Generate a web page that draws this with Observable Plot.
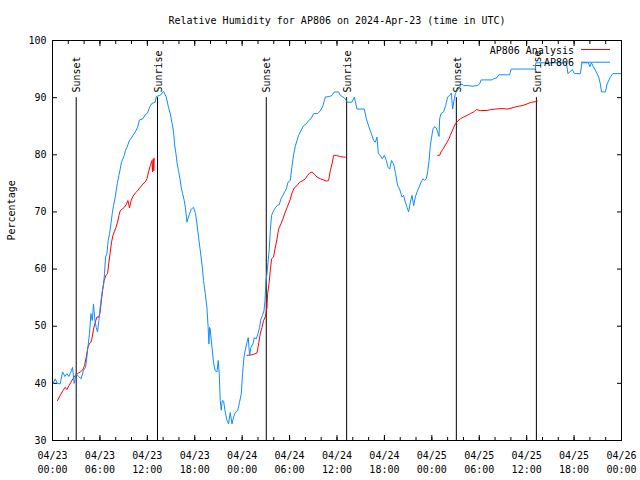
<!DOCTYPE html>
<html>
<head>
<meta charset="utf-8">
<script src="https://cdn.jsdelivr.net/npm/d3@7"></script>
<script src="https://cdn.jsdelivr.net/npm/@observablehq/plot@0.6"></script>
<style>
  html, body { margin: 0; padding: 0; background: white; }
  #chart { position: relative; width: 640px; height: 480px; }
</style>
</head>
<body>
<div id="chart"></div>
<script>
// ---- Data (hours since 2024-04-23 00:00 UTC, relative humidity %) ----
const title = "Relative Humidity for AP806 on 2024-Apr-23 (time in UTC)";
const yLabel = "Percentage";
const seriesNames = ["AP806 Analysis", "AP806"];

const blueSeries = [
  [0.05,39.9],[0.34,40.8],[0.63,40.0],[0.97,39.9],[1.27,42.0],[1.57,41.2],[1.82,41.7],[2.08,41.2],[2.33,42.0],[2.53,42.8],
  [2.75,40.0],[3.00,41.7],[3.29,41.2],[3.63,40.8],[3.92,42.3],[4.18,42.8],[4.35,44.6],[4.48,46.3],[4.68,48.7],[4.86,52.2],
  [5.03,51.0],[5.19,53.9],[5.37,51.0],[5.53,49.8],[5.70,49.0],[5.87,51.0],[6.04,53.3],[6.25,55.7],[6.46,57.4],[6.58,59.2],
  [6.71,62.1],[6.89,62.7],[7.05,65.0],[7.22,66.2],[7.39,67.9],[7.56,69.7],[7.72,71.1],[7.90,72.3],[8.06,73.7],[8.23,75.2],
  [8.41,76.4],[8.57,77.5],[8.73,78.7],[8.91,79.3],[9.08,79.9],[9.24,80.8],[9.42,81.3],[9.58,81.9],[9.75,82.6],[9.92,82.8],
  [10.18,83.4],[10.47,84.0],[10.76,84.8],[11.01,86.1],[11.44,86.3],[11.73,87.0],[12.03,87.3],[12.28,88.3],[12.58,89.0],[13.00,89.2],
  [13.13,90.2],[13.63,90.4],[14.05,91.1],[14.39,90.1],[14.68,88.3],[14.90,87.2],[15.11,85.7],[15.32,84.0],[15.44,81.9],[15.62,80.2],
  [15.78,78.4],[15.95,77.2],[16.13,75.8],[16.29,74.3],[16.46,73.2],[16.67,72.0],[16.84,70.5],[17.01,68.2],[17.27,69.4],[17.56,70.5],
  [17.85,70.8],[18.10,69.7],[18.28,67.9],[18.48,65.6],[18.70,63.2],[18.91,60.9],[19.11,58.0],[19.33,55.7],[19.54,53.3],[19.67,50.4],
  [19.80,46.9],[19.87,49.8],[19.96,49.5],[20.18,46.3],[20.38,43.6],[20.59,42.2],[20.81,42.0],[20.97,44.0],[21.10,41.7],[21.23,37.0],
  [21.35,35.3],[21.48,37.0],[21.65,36.9],[21.82,35.3],[22.08,33.5],[22.28,32.9],[22.49,34.9],[22.71,32.9],[22.91,34.1],[23.13,34.9],
  [23.42,35.2],[23.67,36.7],[23.89,38.2],[24.05,41.7],[24.23,44.6],[24.39,45.8],[24.61,47.2],[24.77,48.0],[24.94,44.9],[25.11,46.3],
  [25.37,46.9],[25.53,48.0],[25.78,47.8],[26.00,48.7],[26.20,49.8],[26.38,51.3],[26.58,51.9],[26.76,52.7],[26.89,54.5],[27.01,58.0],
  [27.14,59.2],[27.27,61.2],[27.43,63.5],[27.56,66.7],[27.72,69.4],[27.90,70.0],[28.10,70.5],[28.41,71.1],[28.70,71.3],[28.91,72.3],
  [29.16,72.9],[29.37,73.5],[29.58,74.0],[29.80,75.2],[30.09,75.5],[30.30,78.0],[30.51,80.0],[30.72,81.5],[30.94,82.5],[31.14,83.4],
  [31.44,84.2],[31.77,85.1],[32.11,85.4],[32.41,86.0],[32.71,86.3],[33.04,87.2],[33.54,87.2],[33.89,87.7],[34.23,88.6],[34.52,90.1],
  [35.06,90.2],[35.37,90.4],[35.66,91.0],[36.20,91.0],[36.42,90.4],[36.76,90.1],[37.05,89.8],[37.27,89.2],[37.90,89.2],[38.19,90.1],
  [38.53,88.0],[39.46,88.0],[39.71,86.3],[39.92,85.4],[40.13,84.5],[40.43,83.4],[40.63,82.5],[40.85,82.2],[41.06,83.1],[41.23,80.2],
  [41.48,79.9],[41.73,79.3],[41.99,79.9],[42.24,79.0],[42.46,77.8],[42.66,77.5],[42.91,79.0],[43.16,78.4],[43.42,76.7],[43.67,74.6],
  [43.92,74.0],[44.23,72.6],[44.43,72.9],[44.65,71.7],[44.86,70.8],[45.06,70.0],[45.28,71.7],[45.49,72.9],[45.70,71.1],[45.91,72.6],
  [46.13,73.5],[46.38,74.3],[46.63,75.2],[46.89,75.8],[47.09,75.5],[47.30,75.8],[47.47,77.0],[47.65,79.0],[47.81,81.6],[47.97,83.1],
  [48.15,84.5],[48.32,84.9],[48.57,84.7],[48.73,84.0],[48.91,83.2],[48.99,86.3],[49.16,87.2],[49.49,87.5],[49.75,88.6],[50.00,90.1],
  [50.25,90.4],[50.47,90.8],[50.63,88.0],[50.85,89.8],[50.97,90.7],[51.19,91.2],[51.39,91.5],[51.61,92.1],[51.82,92.4],[52.03,92.1],
  [52.66,92.1],[53.09,92.0],[53.72,92.1],[54.05,92.4],[54.23,93.1],[55.62,93.1],[55.82,93.3],[56.25,93.5],[56.46,94.0],[57.85,94.0],
  [58.03,95.0],[61.10,95.0],[61.16,96.1],[65.03,96.1],[65.22,94.2],[65.78,94.9],[66.04,94.2],[66.80,94.2],[66.99,96.1],[67.81,96.1],
  [68.00,95.4],[68.19,96.1],[68.44,95.4],[68.70,94.8],[69.11,93.6],[69.33,92.4],[69.46,91.0],[69.96,91.0],[70.18,92.4],[70.59,93.6],
  [70.89,94.2],[72.00,94.2]
];

const redSegment1 = [
  [0.63,37.0],[0.97,37.9],[1.32,38.75],[1.61,39.3],[1.82,38.9],[2.08,39.6],[2.33,40.2],[2.58,40.8],[2.87,41.4],[3.16,41.7],
  [3.51,42.0],[3.85,42.4],[4.05,43.1],[4.27,44.6],[4.48,46.3],[4.65,46.9],[4.86,47.2],[5.03,48.1],[5.19,49.5],[5.41,50.7],
  [5.62,51.6],[5.87,51.6],[6.04,52.5],[6.16,54.2],[6.33,56.2],[6.54,58.0],[6.76,58.9],[6.96,59.2],[7.14,61.2],[7.30,62.9],
  [7.47,64.7],[7.65,65.9],[7.81,66.5],[8.03,67.3],[8.23,68.2],[8.41,69.4],[8.57,70.2],[8.82,70.5],[9.08,70.8],[9.33,71.3],
  [9.54,72.0],[9.75,70.7],[9.92,71.9],[10.18,72.7],[10.47,73.3],[10.76,73.7],[11.10,74.3],[11.44,74.9],[11.73,75.2],[11.95,75.8],
  [12.15,77.0],[12.37,78.1],[12.58,79.0],[12.66,77.0],[12.75,79.3],[12.81,77.2],[12.87,79.4]
];
const redSegment2 = [
  [24.61,44.9],[25.24,45.0],[25.87,45.3],[26.08,46.9],[26.29,48.7],[26.51,49.8],[26.71,51.0],[26.92,51.6],[27.14,53.3],[27.22,55.7],
  [27.39,57.4],[27.56,59.7],[27.72,61.8],[27.97,62.1],[28.15,63.5],[28.41,65.3],[28.61,67.0],[28.91,67.9],[29.16,68.8],[29.46,70.0],
  [29.75,71.0],[30.09,72.2],[30.30,73.3],[30.59,74.2],[30.94,74.6],[31.27,75.2],[31.70,75.5],[31.99,75.8],[32.28,76.4],[32.53,76.8],
  [32.84,77.0],[33.13,76.6],[33.47,76.1],[33.89,75.8],[34.30,75.6],[34.65,75.4],[34.94,75.5],[35.15,77.2],[35.37,78.4],[35.57,79.9],
  [35.91,79.9],[36.33,79.7],[36.84,79.6],[37.05,79.6]
];
const redSegment3 = [
  [48.73,79.9],[48.99,79.9],[49.16,80.5],[49.42,81.0],[49.67,81.6],[49.92,82.2],[50.18,82.8],[50.34,83.4],[50.68,84.5],[50.97,85.4],
  [51.27,85.9],[51.61,86.3],[52.03,86.6],[52.46,86.9],[52.87,87.2],[53.29,87.5],[53.63,87.9],[54.14,87.75],[54.99,87.75],[55.41,87.9],
  [56.04,88.0],[56.89,88.1],[57.52,88.0],[58.15,88.2],[58.78,88.45],[59.42,88.6],[60.05,88.9],[60.47,89.15],[61.10,89.3],[61.35,89.4]
];

const sunEventHours = [3.00, 13.29, 27.05, 37.22, 51.10, 61.23];
const sunEventLabels = ["Sunset", "Sunrise", "Sunset", "Sunrise", "Sunset", "Sunrise"];

const yTicks = [30, 40, 50, 60, 70, 80, 90, 100];

// ---- Build ----
const start = Date.UTC(2024, 3, 23);
const end = Date.UTC(2024, 3, 26);
const toDate = h => new Date(start + h * 3600e3);

const blue = blueSeries.map(([h, v]) => ({date: toDate(h), value: v}));
const red = [redSegment1, redSegment2, redSegment3].flatMap((seg, i) =>
  seg.map(([h, v]) => ({date: toDate(h), value: v, seg: i})));
const events = sunEventHours.map((h, i) => ({date: toDate(h), label: sunEventLabels[i]}));

const majorTicks = d3.utcHour.every(6).range(new Date(start), new Date(end + 1));
const minorTicks = d3.utcHour.every(2).range(new Date(start), new Date(end + 1));
const fmt = d3.utcFormat("%m/%d\n%H:%M");

const RED = "#ff0000";
const BLUE = "#108cff";

const chart = Plot.plot({
  width: 640,
  height: 480,
  marginLeft: 52,
  marginRight: 19,
  marginTop: 40,
  marginBottom: 40,
  style: {fontFamily: "'DejaVu Sans Mono', monospace", fontSize: "10px", background: "white", color: "black"},
  x: {type: "utc", domain: [new Date(start), new Date(end)]},
  y: {domain: [30, 100]},
  marks: [
    Plot.axisX(minorTicks, {anchor: "bottom", tickSize: -3, tickFormat: () => "", label: null}),
    Plot.axisX(minorTicks, {anchor: "top", tickSize: -3, tickFormat: () => "", label: null}),
    Plot.axisX(majorTicks, {anchor: "bottom", tickSize: -5, tickPadding: 14, tickFormat: fmt, lineHeight: 1.4, label: null}),
    Plot.axisX(majorTicks, {anchor: "top", tickSize: -5, tickFormat: () => "", label: null}),
    Plot.axisY(yTicks, {anchor: "left", tickSize: -5, tickPadding: 11, label: null}),
    Plot.axisY(yTicks, {anchor: "right", tickSize: -5, tickFormat: () => "", label: null}),
    Plot.ruleX(events, {x: "date", y1: 30, y2: 90, stroke: "black", strokeWidth: 1}),
    Plot.text(events, {x: "date", y: 90.9, text: "label", rotate: -90, textAnchor: "start", dx: 1}),
    Plot.line(red, {x: "date", y: "value", z: "seg", stroke: RED, strokeWidth: 1, curve: "linear"}),
    Plot.line(blue, {x: "date", y: "value", stroke: BLUE, strokeWidth: 1, curve: "linear"}),
    Plot.frame({stroke: "black"}),
    Plot.text([title], {frameAnchor: "top", dy: -20, lineAnchor: "middle"}),
    Plot.text([yLabel], {frameAnchor: "left", dx: -41, rotate: -90, lineAnchor: "middle"})
  ]
});

document.getElementById("chart").appendChild(chart);

// Key (legend) drawn in the top-right corner of the frame, as gnuplot does
const svg = d3.select(chart);
const key = svg.append("g").attr("font-family", "'DejaVu Sans Mono', monospace").attr("font-size", 10);
const keyColors = [RED, BLUE];
seriesNames.forEach((name, i) => {
  const yy = 50 + i * 12.7;
  key.append("text").attr("x", 574).attr("y", yy).attr("dy", "0.35em")
     .attr("text-anchor", "end").attr("fill", "black").text(name);
  key.append("line").attr("x1", 581).attr("x2", 610).attr("y1", yy - 0.5).attr("y2", yy - 0.5)
     .attr("stroke", keyColors[i]).attr("stroke-width", 1);
});
</script>
</body>
</html>
